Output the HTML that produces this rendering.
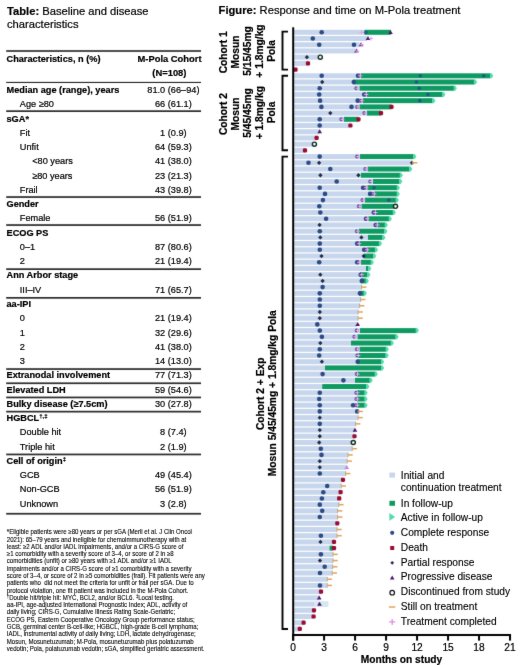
<!DOCTYPE html>
<html><head><meta charset="utf-8"><title>M-Pola</title>
<style>
html,body{margin:0;padding:0;background:#fff;}
body{width:520px;height:665px;overflow:hidden;}
svg{display:block;will-change:transform;font-family:"Liberation Sans", sans-serif;}
svg text{fill:#000;stroke:#000;stroke-width:0.2px;}
svg text.fn{stroke-width:0.09px;}
svg text.lg{stroke-width:0.12px;}
</style></head><body>
<svg width="520" height="665" viewBox="0 0 520 665">
<defs><filter id="b" x="0" y="0" width="520" height="665" filterUnits="userSpaceOnUse" color-interpolation-filters="sRGB"><feConvolveMatrix order="3" kernelMatrix="0.012 0.07 0.012 0.07 0.672 0.07 0.012 0.07 0.012" edgeMode="duplicate" preserveAlpha="true"/></filter><filter id="bt" x="0" y="0" width="520" height="665" filterUnits="userSpaceOnUse" color-interpolation-filters="sRGB"><feConvolveMatrix order="3" kernelMatrix="0.005 0.045 0.005 0.045 0.8 0.045 0.005 0.045 0.005" preserveAlpha="false"/></filter></defs>
<rect width="520" height="665" fill="#fff"/>
<g filter="url(#b)"><rect width="520" height="665" fill="#fff"/>
<rect x="6.2" y="50.1" width="194.8" height="1.8" fill="#3a3a3a"/>
<rect x="6.2" y="81.9" width="194.8" height="1.1" fill="#222"/>
<rect x="6.2" y="110.3" width="194.8" height="1.7" fill="#2a2a2a"/>
<rect x="6.2" y="196.2" width="194.8" height="1.7" fill="#2a2a2a"/>
<rect x="6.2" y="224.2" width="194.8" height="1.7" fill="#2a2a2a"/>
<rect x="6.2" y="268.3" width="194.8" height="1.7" fill="#2a2a2a"/>
<rect x="6.2" y="297" width="194.8" height="1.7" fill="#2a2a2a"/>
<rect x="6.2" y="368.2" width="194.8" height="1.7" fill="#2a2a2a"/>
<rect x="6.2" y="382.4" width="194.8" height="1.7" fill="#2a2a2a"/>
<rect x="6.2" y="396.6" width="194.8" height="1.7" fill="#2a2a2a"/>
<rect x="6.2" y="410.8" width="194.8" height="1.7" fill="#2a2a2a"/>
<rect x="6.2" y="453.6" width="194.8" height="1.7" fill="#2a2a2a"/>
<rect x="6.2" y="512.9" width="194.8" height="1.7" fill="#2a2a2a"/>
<rect x="294.2" y="29.8" width="70.3" height="5" fill="#c7d6ec"/>
<rect x="364.5" y="29.8" width="26.5" height="5" fill="#0e9a62"/>
<rect x="294.2" y="36.02" width="72.9" height="5" fill="#c7d6ec"/>
<rect x="294.2" y="42.23" width="65.3" height="5" fill="#c7d6ec"/>
<rect x="294.2" y="48.44" width="61.3" height="5" fill="#c7d6ec"/>
<rect x="294.2" y="54.66" width="26.3" height="5" fill="#c7d6ec"/>
<rect x="294.2" y="60.88" width="13.8" height="5" fill="#c7d6ec"/>
<rect x="294.2" y="73.3" width="66.8" height="5" fill="#c7d6ec"/>
<rect x="361" y="73.3" width="129.4" height="5" fill="#0e9a62"/>
<rect x="294.2" y="79.52" width="58.8" height="5" fill="#c7d6ec"/>
<rect x="353" y="79.52" width="121.2" height="5" fill="#0e9a62"/>
<rect x="294.2" y="85.73" width="65.3" height="5" fill="#c7d6ec"/>
<rect x="359.5" y="85.73" width="94.5" height="5" fill="#0e9a62"/>
<rect x="294.2" y="91.95" width="72.8" height="5" fill="#c7d6ec"/>
<rect x="367" y="91.95" width="75.5" height="5" fill="#0e9a62"/>
<rect x="294.2" y="98.16" width="68.8" height="5" fill="#c7d6ec"/>
<rect x="363" y="98.16" width="69.5" height="5" fill="#0e9a62"/>
<rect x="294.2" y="104.38" width="65.3" height="5" fill="#c7d6ec"/>
<rect x="359.5" y="104.38" width="32" height="5" fill="#0e9a62"/>
<rect x="294.2" y="110.59" width="72.8" height="5" fill="#c7d6ec"/>
<rect x="367" y="110.59" width="14" height="5" fill="#0e9a62"/>
<rect x="294.2" y="116.81" width="49.8" height="5" fill="#c7d6ec"/>
<rect x="344" y="116.81" width="14.5" height="5" fill="#0e9a62"/>
<rect x="294.2" y="123.02" width="56.2" height="5" fill="#c7d6ec"/>
<rect x="294.2" y="129.24" width="25.5" height="5" fill="#c7d6ec"/>
<rect x="294.2" y="135.45" width="22.4" height="5" fill="#c7d6ec"/>
<rect x="294.2" y="141.67" width="20.2" height="5" fill="#c7d6ec"/>
<rect x="294.2" y="147.88" width="10.8" height="5" fill="#c7d6ec"/>
<rect x="294.2" y="154.1" width="65.8" height="5" fill="#c7d6ec"/>
<rect x="360" y="154.1" width="53.5" height="5" fill="#0e9a62"/>
<rect x="294.2" y="160.31" width="117.8" height="5" fill="#c7d6ec"/>
<rect x="294.2" y="166.53" width="73.5" height="5" fill="#c7d6ec"/>
<rect x="367.7" y="166.53" width="41.8" height="5" fill="#0e9a62"/>
<rect x="294.2" y="172.75" width="66.8" height="5" fill="#c7d6ec"/>
<rect x="361" y="172.75" width="39" height="5" fill="#0e9a62"/>
<rect x="294.2" y="178.96" width="78.8" height="5" fill="#c7d6ec"/>
<rect x="373" y="178.96" width="26.5" height="5" fill="#0e9a62"/>
<rect x="294.2" y="185.18" width="73.3" height="5" fill="#c7d6ec"/>
<rect x="367.5" y="185.18" width="29.5" height="5" fill="#0e9a62"/>
<rect x="294.2" y="191.39" width="80.3" height="5" fill="#c7d6ec"/>
<rect x="374.5" y="191.39" width="22.5" height="5" fill="#0e9a62"/>
<rect x="294.2" y="197.61" width="70.8" height="5" fill="#c7d6ec"/>
<rect x="365" y="197.61" width="31" height="5" fill="#0e9a62"/>
<rect x="294.2" y="203.82" width="67.3" height="5" fill="#c7d6ec"/>
<rect x="361.5" y="203.82" width="33" height="5" fill="#0e9a62"/>
<rect x="294.2" y="210.03" width="81.8" height="5" fill="#c7d6ec"/>
<rect x="376" y="210.03" width="17" height="5" fill="#0e9a62"/>
<rect x="294.2" y="216.25" width="74.3" height="5" fill="#c7d6ec"/>
<rect x="368.5" y="216.25" width="20.5" height="5" fill="#0e9a62"/>
<rect x="294.2" y="222.46" width="83.3" height="5" fill="#c7d6ec"/>
<rect x="377.5" y="222.46" width="7.5" height="5" fill="#0e9a62"/>
<rect x="294.2" y="228.68" width="64.8" height="5" fill="#c7d6ec"/>
<rect x="359" y="228.68" width="25.5" height="5" fill="#0e9a62"/>
<rect x="294.2" y="234.89" width="73.8" height="5" fill="#c7d6ec"/>
<rect x="368" y="234.89" width="14.6" height="5" fill="#0e9a62"/>
<rect x="294.2" y="241.11" width="65.4" height="5" fill="#c7d6ec"/>
<rect x="359.6" y="241.11" width="19.6" height="5" fill="#0e9a62"/>
<rect x="294.2" y="247.32" width="72.8" height="5" fill="#c7d6ec"/>
<rect x="367" y="247.32" width="8.2" height="5" fill="#0e9a62"/>
<rect x="294.2" y="253.54" width="69.8" height="5" fill="#c7d6ec"/>
<rect x="364" y="253.54" width="9.4" height="5" fill="#0e9a62"/>
<rect x="294.2" y="259.75" width="66.8" height="5" fill="#c7d6ec"/>
<rect x="361" y="259.75" width="10" height="5" fill="#0e9a62"/>
<rect x="294.2" y="265.97" width="71.8" height="5" fill="#c7d6ec"/>
<rect x="366" y="265.97" width="2.5" height="5" fill="#0e9a62"/>
<rect x="294.2" y="272.19" width="65.8" height="5" fill="#c7d6ec"/>
<rect x="360" y="272.19" width="7.6" height="5" fill="#0e9a62"/>
<rect x="294.2" y="278.4" width="66.8" height="5" fill="#c7d6ec"/>
<rect x="361" y="278.4" width="5" height="5" fill="#0e9a62"/>
<rect x="294.2" y="284.62" width="67.8" height="5" fill="#c7d6ec"/>
<rect x="294.2" y="290.83" width="64.8" height="5" fill="#c7d6ec"/>
<rect x="359" y="290.83" width="5" height="5" fill="#0e9a62"/>
<rect x="294.2" y="297.05" width="66.8" height="5" fill="#c7d6ec"/>
<rect x="294.2" y="303.26" width="65.8" height="5" fill="#c7d6ec"/>
<rect x="294.2" y="309.48" width="64.2" height="5" fill="#c7d6ec"/>
<rect x="294.2" y="315.69" width="64.2" height="5" fill="#c7d6ec"/>
<rect x="294.2" y="321.91" width="62.8" height="5" fill="#c7d6ec"/>
<rect x="294.2" y="328.12" width="65.8" height="5" fill="#c7d6ec"/>
<rect x="360" y="328.12" width="56" height="5" fill="#0e9a62"/>
<rect x="294.2" y="334.33" width="63.3" height="5" fill="#c7d6ec"/>
<rect x="357.5" y="334.33" width="38.3" height="5" fill="#0e9a62"/>
<rect x="294.2" y="340.55" width="56.8" height="5" fill="#c7d6ec"/>
<rect x="351" y="340.55" width="40" height="5" fill="#0e9a62"/>
<rect x="294.2" y="346.76" width="65.3" height="5" fill="#c7d6ec"/>
<rect x="359.5" y="346.76" width="26.5" height="5" fill="#0e9a62"/>
<rect x="294.2" y="352.98" width="63.8" height="5" fill="#c7d6ec"/>
<rect x="358" y="352.98" width="27.8" height="5" fill="#0e9a62"/>
<rect x="294.2" y="359.19" width="62.8" height="5" fill="#c7d6ec"/>
<rect x="357" y="359.19" width="24.3" height="5" fill="#0e9a62"/>
<rect x="294.2" y="365.41" width="30.8" height="5" fill="#c7d6ec"/>
<rect x="325" y="365.41" width="56.3" height="5" fill="#0e9a62"/>
<rect x="294.2" y="371.62" width="62.8" height="5" fill="#c7d6ec"/>
<rect x="357" y="371.62" width="18" height="5" fill="#0e9a62"/>
<rect x="294.2" y="377.84" width="60.8" height="5" fill="#c7d6ec"/>
<rect x="355" y="377.84" width="14.9" height="5" fill="#0e9a62"/>
<rect x="294.2" y="384.06" width="28" height="5" fill="#c7d6ec"/>
<rect x="322.2" y="384.06" width="44.3" height="5" fill="#0e9a62"/>
<rect x="294.2" y="390.27" width="62.8" height="5" fill="#c7d6ec"/>
<rect x="357" y="390.27" width="7.8" height="5" fill="#0e9a62"/>
<rect x="294.2" y="396.49" width="62.8" height="5" fill="#c7d6ec"/>
<rect x="357" y="396.49" width="7.8" height="5" fill="#0e9a62"/>
<rect x="294.2" y="402.7" width="62.8" height="5" fill="#c7d6ec"/>
<rect x="357" y="402.7" width="7.8" height="5" fill="#0e9a62"/>
<rect x="294.2" y="408.92" width="63.8" height="5" fill="#c7d6ec"/>
<rect x="294.2" y="415.13" width="64.2" height="5" fill="#c7d6ec"/>
<rect x="294.2" y="421.35" width="61.8" height="5" fill="#c7d6ec"/>
<rect x="294.2" y="427.56" width="60.8" height="5" fill="#c7d6ec"/>
<rect x="294.2" y="433.77" width="60.3" height="5" fill="#c7d6ec"/>
<rect x="294.2" y="439.99" width="59.1" height="5" fill="#c7d6ec"/>
<rect x="294.2" y="446.2" width="58.3" height="5" fill="#c7d6ec"/>
<rect x="294.2" y="452.42" width="54.1" height="5" fill="#c7d6ec"/>
<rect x="294.2" y="458.63" width="53.3" height="5" fill="#c7d6ec"/>
<rect x="294.2" y="464.85" width="52.3" height="5" fill="#c7d6ec"/>
<rect x="294.2" y="471.06" width="51.8" height="5" fill="#c7d6ec"/>
<rect x="294.2" y="477.28" width="48.8" height="5" fill="#c7d6ec"/>
<rect x="294.2" y="483.5" width="47.3" height="5" fill="#c7d6ec"/>
<rect x="294.2" y="489.71" width="46.4" height="5" fill="#c7d6ec"/>
<rect x="294.2" y="495.93" width="45" height="5" fill="#c7d6ec"/>
<rect x="294.2" y="502.14" width="45" height="5" fill="#c7d6ec"/>
<rect x="294.2" y="508.36" width="43.8" height="5" fill="#c7d6ec"/>
<rect x="294.2" y="514.57" width="43.8" height="5" fill="#c7d6ec"/>
<rect x="294.2" y="520.78" width="43.1" height="5" fill="#c7d6ec"/>
<rect x="294.2" y="527" width="43.1" height="5" fill="#c7d6ec"/>
<rect x="294.2" y="533.21" width="43.1" height="5" fill="#c7d6ec"/>
<rect x="294.2" y="539.43" width="39.8" height="5" fill="#c7d6ec"/>
<rect x="294.2" y="545.64" width="35.3" height="5" fill="#c7d6ec"/>
<rect x="329.5" y="545.64" width="3.5" height="5" fill="#0e9a62"/>
<rect x="294.2" y="551.86" width="39.1" height="5" fill="#c7d6ec"/>
<rect x="294.2" y="558.07" width="39.1" height="5" fill="#c7d6ec"/>
<rect x="294.2" y="564.29" width="38.8" height="5" fill="#c7d6ec"/>
<rect x="294.2" y="570.5" width="38.3" height="5" fill="#c7d6ec"/>
<rect x="294.2" y="576.72" width="33.3" height="5" fill="#c7d6ec"/>
<rect x="294.2" y="582.93" width="33.3" height="5" fill="#c7d6ec"/>
<rect x="294.2" y="589.15" width="26.8" height="5" fill="#c7d6ec"/>
<rect x="294.2" y="595.36" width="25" height="5" fill="#c7d6ec"/>
<rect x="294.2" y="601.58" width="34" height="5" fill="#c7d6ec"/>
<rect x="321" y="601.58" width="7.2" height="5" fill="#d4e7f3"/>
<rect x="314.5" y="601.58" width="3" height="5" fill="#dde9f6"/>
<rect x="294.2" y="607.79" width="19.8" height="5" fill="#c7d6ec"/>
<rect x="294.2" y="614.01" width="19.4" height="5" fill="#c7d6ec"/>
<rect x="294.2" y="620.22" width="9.4" height="5" fill="#c7d6ec"/>
<rect x="294.2" y="626.44" width="5.6" height="5" fill="#c7d6ec"/>
<circle cx="321.7" cy="32.3" r="2.3" fill="#2b4a86"/>
<path d="M359.4 32.3h4.2M361.5 30.2v4.2" stroke="#e79ef0" stroke-width="1.0" fill="none"/>
<circle cx="365.8" cy="32.3" r="1.9" fill="#1f4f86" opacity="0.7"/>
<path d="M390.5 29.9l2.3 4h-4.6z" fill="#4c1868"/>
<circle cx="312.8" cy="38.52" r="2.3" fill="#2b4a86"/>
<path d="M368 36.12l2.3 4h-4.6z" fill="#4c1868"/>
<path d="M368.9 38.52h4.2M371 36.41v4.2" stroke="#e79ef0" stroke-width="1.0" fill="none"/>
<circle cx="319.2" cy="44.73" r="2.3" fill="#2b4a86"/>
<circle cx="354" cy="44.73" r="2.3" fill="#2b4a86"/>
<path d="M361 42.33l2.3 4h-4.6z" fill="#4c1868"/>
<path d="M359.7 44.73h4.2M361.8 42.63v4.2" stroke="#e79ef0" stroke-width="1.0" fill="none"/>
<path d="M356.5 48.54l2.3 4h-4.6z" fill="#4c1868"/>
<path d="M355.1 50.94h4.2M357.2 48.84v4.2" stroke="#e79ef0" stroke-width="1.0" fill="none"/>
<path d="M306.9 55.01l2.15 2.15l-2.15 2.15l-2.15 -2.15z" fill="#1f2a44"/>
<circle cx="320.3" cy="57.16" r="2.05" fill="#f4f8f6" stroke="#0f2a22" stroke-width="1.4"/>
<rect x="305.9" y="61.27" width="4.2" height="4.2" rx="1.3" fill="#9a0c32"/>
<rect x="293.4" y="67.49" width="4.2" height="4.2" rx="1.3" fill="#9a0c32"/>
<circle cx="321.7" cy="75.8" r="2.3" fill="#2b4a86"/>
<circle cx="358" cy="75.8" r="2.3" fill="#2b4a86"/>
<circle cx="359.4" cy="75.8" r="2.0" fill="#5a4494"/><path d="M358.2 75.8h4.2M360.3 73.7v4.2" stroke="#eeb2f4" stroke-width="1.0" fill="none"/>
<circle cx="420.4" cy="75.8" r="1.8" fill="#1f4f86" opacity="0.85"/>
<circle cx="483.7" cy="75.8" r="1.8" fill="#1f4f86" opacity="0.85"/>
<path d="M490.1 73.3h1.5l1.7 2.5l-1.7 2.5h-1.5z" fill="#52dcab"/>
<path d="M322.2 79.87l2.15 2.15l-2.15 2.15l-2.15 -2.15z" fill="#1f2a44"/>
<circle cx="353.8" cy="82.02" r="2.3" fill="#2b4a86"/>
<circle cx="416.4" cy="82.02" r="1.8" fill="#1f4f86" opacity="0.85"/>
<path d="M473.9 79.52h1.5l1.7 2.5l-1.7 2.5h-1.5z" fill="#52dcab"/>
<circle cx="319.7" cy="88.23" r="2.3" fill="#2b4a86"/>
<circle cx="356.4" cy="88.23" r="2.0" fill="#5a4494"/><path d="M355.2 88.23h4.2M357.3 86.14v4.2" stroke="#eeb2f4" stroke-width="1.0" fill="none"/>
<circle cx="419.2" cy="88.23" r="1.8" fill="#1f4f86" opacity="0.85"/>
<path d="M453.7 85.73h1.5l1.7 2.5l-1.7 2.5h-1.5z" fill="#52dcab"/>
<circle cx="319.2" cy="94.45" r="2.3" fill="#2b4a86"/>
<circle cx="364.2" cy="94.45" r="2.3" fill="#2b4a86"/>
<circle cx="365.4" cy="94.45" r="2.0" fill="#5a4494"/><path d="M364.2 94.45h4.2M366.3 92.35v4.2" stroke="#eeb2f4" stroke-width="1.0" fill="none"/>
<circle cx="427.9" cy="94.45" r="1.8" fill="#1f4f86" opacity="0.85"/>
<path d="M442.2 91.95h1.5l1.7 2.5l-1.7 2.5h-1.5z" fill="#52dcab"/>
<circle cx="320.1" cy="100.66" r="2.3" fill="#2b4a86"/>
<circle cx="357.7" cy="100.66" r="2.3" fill="#2b4a86"/>
<circle cx="360.9" cy="100.66" r="2.0" fill="#5a4494"/><path d="M359.7 100.66h4.2M361.8 98.56v4.2" stroke="#eeb2f4" stroke-width="1.0" fill="none"/>
<circle cx="419.8" cy="100.66" r="1.8" fill="#1f4f86" opacity="0.85"/>
<path d="M432.2 98.16h1.5l1.7 2.5l-1.7 2.5h-1.5z" fill="#52dcab"/>
<circle cx="321.4" cy="106.88" r="2.3" fill="#2b4a86"/>
<circle cx="351.5" cy="106.88" r="2.3" fill="#2b4a86"/>
<circle cx="357.1" cy="106.88" r="2.0" fill="#5a4494"/><path d="M355.9 106.88h4.2M358 104.78v4.2" stroke="#eeb2f4" stroke-width="1.0" fill="none"/>
<rect x="389.4" y="104.78" width="4.2" height="4.2" rx="1.3" fill="#9a0c32"/>
<path d="M330.3 110.94l2.15 2.15l-2.15 2.15l-2.15 -2.15z" fill="#1f2a44"/>
<circle cx="364.4" cy="113.09" r="2.0" fill="#5a4494"/><path d="M363.2 113.09h4.2M365.3 111v4.2" stroke="#eeb2f4" stroke-width="1.0" fill="none"/>
<rect x="378.9" y="111" width="4.2" height="4.2" rx="1.3" fill="#9a0c32"/>
<circle cx="319.7" cy="119.31" r="2.3" fill="#2b4a86"/>
<circle cx="341.4" cy="119.31" r="2.0" fill="#5a4494"/><path d="M340.2 119.31h4.2M342.3 117.21v4.2" stroke="#eeb2f4" stroke-width="1.0" fill="none"/>
<rect x="356.4" y="117.21" width="4.2" height="4.2" rx="1.3" fill="#9a0c32"/>
<circle cx="319.7" cy="125.52" r="2.3" fill="#2b4a86"/>
<rect x="348.3" y="123.42" width="4.2" height="4.2" rx="1.3" fill="#9a0c32"/>
<path d="M319.7 129.34l2.3 4h-4.6z" fill="#4c1868"/>
<rect x="314.5" y="135.85" width="4.2" height="4.2" rx="1.3" fill="#9a0c32"/>
<circle cx="314.4" cy="144.17" r="2.05" fill="#f4f8f6" stroke="#0f2a22" stroke-width="1.4"/>
<rect x="302.9" y="148.28" width="4.2" height="4.2" rx="1.3" fill="#9a0c32"/>
<circle cx="319.7" cy="156.6" r="2.3" fill="#2b4a86"/>
<circle cx="357.2" cy="156.6" r="2.0" fill="#5a4494"/><path d="M356 156.6h4.2M358.1 154.5v4.2" stroke="#eeb2f4" stroke-width="1.0" fill="none"/>
<path d="M413.2 154.1h1.5l1.7 2.5l-1.7 2.5h-1.5z" fill="#52dcab"/>
<circle cx="308.5" cy="162.81" r="2.3" fill="#2b4a86"/>
<path d="M319.1 160.66l2.15 2.15l-2.15 2.15l-2.15 -2.15z" fill="#1f2a44"/>
<path d="M412 160.66l2.15 2.15l-2.15 2.15l-2.15 -2.15z" fill="#1f2a44"/>
<rect x="412.2" y="160.62" width="0.9" height="4.4" fill="#b8a67e"/><rect x="412.8" y="162.06" width="4.6" height="1.5" fill="#e2a25a"/>
<circle cx="330.3" cy="169.03" r="2.3" fill="#2b4a86"/>
<circle cx="365.3" cy="169.03" r="2.0" fill="#5a4494"/><path d="M364.1 169.03h4.2M366.2 166.93v4.2" stroke="#eeb2f4" stroke-width="1.0" fill="none"/>
<path d="M409.2 166.53h1.5l1.7 2.5l-1.7 2.5h-1.5z" fill="#52dcab"/>
<path d="M320.4 173.09l2.15 2.15l-2.15 2.15l-2.15 -2.15z" fill="#1f2a44"/>
<path d="M358.4 173.09l2.15 2.15l-2.15 2.15l-2.15 -2.15z" fill="#1f2a44"/>
<path d="M399.7 172.75h1.5l1.7 2.5l-1.7 2.5h-1.5z" fill="#52dcab"/>
<circle cx="336.7" cy="181.46" r="2.3" fill="#2b4a86"/>
<circle cx="370.3" cy="181.46" r="2.0" fill="#5a4494"/><path d="M369.1 181.46h4.2M371.2 179.36v4.2" stroke="#eeb2f4" stroke-width="1.0" fill="none"/>
<path d="M399.2 178.96h1.5l1.7 2.5l-1.7 2.5h-1.5z" fill="#52dcab"/>
<circle cx="319.7" cy="187.68" r="2.3" fill="#2b4a86"/>
<circle cx="363.1" cy="187.68" r="2.3" fill="#2b4a86"/>
<circle cx="365.4" cy="187.68" r="2.0" fill="#5a4494"/><path d="M364.2 187.68h4.2M366.3 185.58v4.2" stroke="#eeb2f4" stroke-width="1.0" fill="none"/>
<path d="M396.7 185.18h1.5l1.7 2.5l-1.7 2.5h-1.5z" fill="#52dcab"/>
<circle cx="374" cy="187.68" r="1.8" fill="#1f4f86" opacity="0.85"/>
<circle cx="325" cy="193.89" r="2.3" fill="#2b4a86"/>
<circle cx="370.1" cy="193.89" r="2.3" fill="#2b4a86"/>
<circle cx="373.4" cy="193.89" r="2.0" fill="#5a4494"/><path d="M372.2 193.89h4.2M374.3 191.79v4.2" stroke="#eeb2f4" stroke-width="1.0" fill="none"/>
<path d="M396.7 191.39h1.5l1.7 2.5l-1.7 2.5h-1.5z" fill="#52dcab"/>
<circle cx="322.9" cy="200.11" r="2.3" fill="#2b4a86"/>
<circle cx="362.5" cy="200.11" r="2.0" fill="#5a4494"/><path d="M361.3 200.11h4.2M363.4 198.01v4.2" stroke="#eeb2f4" stroke-width="1.0" fill="none"/>
<circle cx="388.7" cy="200.11" r="1.8" fill="#1f4f86" opacity="0.85"/>
<path d="M395.7 197.61h1.5l1.7 2.5l-1.7 2.5h-1.5z" fill="#52dcab"/>
<circle cx="319.3" cy="206.32" r="2.3" fill="#2b4a86"/>
<circle cx="358.9" cy="206.32" r="2.0" fill="#5a4494"/><path d="M357.7 206.32h4.2M359.8 204.22v4.2" stroke="#eeb2f4" stroke-width="1.0" fill="none"/>
<circle cx="395.5" cy="206.32" r="2.05" fill="#f4f8f6" stroke="#0f2a22" stroke-width="1.4"/>
<circle cx="320.3" cy="212.53" r="2.3" fill="#2b4a86"/>
<circle cx="373.8" cy="212.53" r="2.3" fill="#2b4a86"/>
<circle cx="374.4" cy="212.53" r="2.0" fill="#5a4494"/><path d="M373.2 212.53h4.2M375.3 210.43v4.2" stroke="#eeb2f4" stroke-width="1.0" fill="none"/>
<path d="M392.7 210.03h1.5l1.7 2.5l-1.7 2.5h-1.5z" fill="#52dcab"/>
<circle cx="326.1" cy="218.75" r="2.3" fill="#2b4a86"/>
<circle cx="366" cy="218.75" r="2.3" fill="#2b4a86"/>
<circle cx="366.4" cy="218.75" r="2.0" fill="#5a4494"/><path d="M365.2 218.75h4.2M367.3 216.65v4.2" stroke="#eeb2f4" stroke-width="1.0" fill="none"/>
<path d="M388.7 216.25h1.5l1.7 2.5l-1.7 2.5h-1.5z" fill="#52dcab"/>
<path d="M319.6 222.81l2.15 2.15l-2.15 2.15l-2.15 -2.15z" fill="#1f2a44"/>
<circle cx="375.7" cy="224.96" r="2.3" fill="#2b4a86"/>
<circle cx="376.4" cy="224.96" r="2.0" fill="#5a4494"/><path d="M375.2 224.96h4.2M377.3 222.86v4.2" stroke="#eeb2f4" stroke-width="1.0" fill="none"/>
<path d="M384.7 222.46h1.5l1.7 2.5l-1.7 2.5h-1.5z" fill="#52dcab"/>
<circle cx="319.8" cy="231.18" r="2.3" fill="#2b4a86"/>
<circle cx="356.9" cy="231.18" r="2.0" fill="#5a4494"/><path d="M355.7 231.18h4.2M357.8 229.08v4.2" stroke="#eeb2f4" stroke-width="1.0" fill="none"/>
<path d="M384.2 228.68h1.5l1.7 2.5l-1.7 2.5h-1.5z" fill="#52dcab"/>
<path d="M320.3 235.24l2.15 2.15l-2.15 2.15l-2.15 -2.15z" fill="#1f2a44"/>
<path d="M361.4 235.24l2.15 2.15l-2.15 2.15l-2.15 -2.15z" fill="#1f2a44"/>
<path d="M382.3 234.89h1.5l1.7 2.5l-1.7 2.5h-1.5z" fill="#52dcab"/>
<circle cx="319.8" cy="243.61" r="2.3" fill="#2b4a86"/>
<circle cx="357.2" cy="243.61" r="2.3" fill="#2b4a86"/>
<circle cx="358.4" cy="243.61" r="2.0" fill="#5a4494"/><path d="M357.2 243.61h4.2M359.3 241.51v4.2" stroke="#eeb2f4" stroke-width="1.0" fill="none"/>
<path d="M378.9 241.11h1.5l1.7 2.5l-1.7 2.5h-1.5z" fill="#52dcab"/>
<circle cx="319.8" cy="249.82" r="2.3" fill="#2b4a86"/>
<circle cx="364.2" cy="249.82" r="2.3" fill="#2b4a86"/>
<circle cx="366.4" cy="249.82" r="2.0" fill="#5a4494"/><path d="M365.2 249.82h4.2M367.3 247.72v4.2" stroke="#eeb2f4" stroke-width="1.0" fill="none"/>
<path d="M374.9 247.32h1.5l1.7 2.5l-1.7 2.5h-1.5z" fill="#52dcab"/>
<path d="M321.5 253.89l2.15 2.15l-2.15 2.15l-2.15 -2.15z" fill="#1f2a44"/>
<path d="M363.7 253.89l2.15 2.15l-2.15 2.15l-2.15 -2.15z" fill="#1f2a44"/>
<path d="M373.1 253.54h1.5l1.7 2.5l-1.7 2.5h-1.5z" fill="#52dcab"/>
<circle cx="319.2" cy="262.25" r="2.3" fill="#2b4a86"/>
<circle cx="357.2" cy="262.25" r="2.3" fill="#2b4a86"/>
<circle cx="358.4" cy="262.25" r="2.0" fill="#5a4494"/><path d="M357.2 262.25h4.2M359.3 260.15v4.2" stroke="#eeb2f4" stroke-width="1.0" fill="none"/>
<path d="M370.7 259.75h1.5l1.7 2.5l-1.7 2.5h-1.5z" fill="#52dcab"/>
<path d="M368.2 265.97h1.5l1.7 2.5l-1.7 2.5h-1.5z" fill="#52dcab"/>
<path d="M320.3 272.54l2.15 2.15l-2.15 2.15l-2.15 -2.15z" fill="#1f2a44"/>
<circle cx="360.7" cy="274.69" r="2.3" fill="#2b4a86"/>
<circle cx="360.9" cy="274.69" r="2.0" fill="#5a4494"/><path d="M359.7 274.69h4.2M361.8 272.58v4.2" stroke="#eeb2f4" stroke-width="1.0" fill="none"/>
<path d="M367.3 272.19h1.5l1.7 2.5l-1.7 2.5h-1.5z" fill="#52dcab"/>
<path d="M322.6 278.75l2.15 2.15l-2.15 2.15l-2.15 -2.15z" fill="#1f2a44"/>
<circle cx="361.8" cy="280.9" r="2.3" fill="#2b4a86"/>
<path d="M365.7 278.4h1.5l1.7 2.5l-1.7 2.5h-1.5z" fill="#52dcab"/>
<circle cx="322.6" cy="287.12" r="2.3" fill="#2b4a86"/>
<rect x="361.2" y="284.92" width="0.9" height="4.4" fill="#b8a67e"/><rect x="361.8" y="286.37" width="4.6" height="1.5" fill="#e2a25a"/>
<circle cx="319.8" cy="293.33" r="2.3" fill="#2b4a86"/>
<circle cx="360" cy="293.33" r="2.3" fill="#2b4a86"/>
<path d="M363.7 290.83h1.5l1.7 2.5l-1.7 2.5h-1.5z" fill="#52dcab"/>
<circle cx="319.8" cy="299.55" r="2.3" fill="#2b4a86"/>
<rect x="360.2" y="297.35" width="0.9" height="4.4" fill="#b8a67e"/><rect x="360.8" y="298.8" width="4.6" height="1.5" fill="#e2a25a"/>
<circle cx="319.8" cy="305.76" r="2.3" fill="#2b4a86"/>
<rect x="359.2" y="303.56" width="0.9" height="4.4" fill="#b8a67e"/><rect x="359.8" y="305.01" width="4.6" height="1.5" fill="#e2a25a"/>
<path d="M319.8 309.83l2.15 2.15l-2.15 2.15l-2.15 -2.15z" fill="#1f2a44"/>
<rect x="357.6" y="309.78" width="0.9" height="4.4" fill="#b8a67e"/><rect x="358.2" y="311.23" width="4.6" height="1.5" fill="#e2a25a"/>
<path d="M319.8 316.04l2.15 2.15l-2.15 2.15l-2.15 -2.15z" fill="#1f2a44"/>
<rect x="357.6" y="315.99" width="0.9" height="4.4" fill="#b8a67e"/><rect x="358.2" y="317.44" width="4.6" height="1.5" fill="#e2a25a"/>
<circle cx="317.3" cy="324.41" r="2.3" fill="#2b4a86"/>
<path d="M357.7 322.01l2.3 4h-4.6z" fill="#4c1868"/>
<circle cx="319.8" cy="330.62" r="2.3" fill="#2b4a86"/>
<circle cx="356.7" cy="330.62" r="2.0" fill="#5a4494"/><path d="M355.5 330.62h4.2M357.6 328.52v4.2" stroke="#eeb2f4" stroke-width="1.0" fill="none"/>
<path d="M415.7 328.12h1.5l1.7 2.5l-1.7 2.5h-1.5z" fill="#52dcab"/>
<circle cx="321.9" cy="336.83" r="2.3" fill="#2b4a86"/>
<circle cx="354.4" cy="336.83" r="2.0" fill="#5a4494"/><path d="M353.2 336.83h4.2M355.3 334.73v4.2" stroke="#eeb2f4" stroke-width="1.0" fill="none"/>
<path d="M395.5 334.33h1.5l1.7 2.5l-1.7 2.5h-1.5z" fill="#52dcab"/>
<path d="M320.3 340.9l2.15 2.15l-2.15 2.15l-2.15 -2.15z" fill="#1f2a44"/>
<path d="M390.7 340.55h1.5l1.7 2.5l-1.7 2.5h-1.5z" fill="#52dcab"/>
<circle cx="319.8" cy="349.26" r="2.3" fill="#2b4a86"/>
<circle cx="356.9" cy="349.26" r="2.0" fill="#5a4494"/><path d="M355.7 349.26h4.2M357.8 347.16v4.2" stroke="#eeb2f4" stroke-width="1.0" fill="none"/>
<path d="M385.7 346.76h1.5l1.7 2.5l-1.7 2.5h-1.5z" fill="#52dcab"/>
<circle cx="319.2" cy="355.48" r="2.3" fill="#2b4a86"/>
<circle cx="357.4" cy="355.48" r="2.0" fill="#5a4494"/><path d="M356.2 355.48h4.2M358.3 353.38v4.2" stroke="#eeb2f4" stroke-width="1.0" fill="none"/>
<path d="M385.5 352.98h1.5l1.7 2.5l-1.7 2.5h-1.5z" fill="#52dcab"/>
<path d="M321.9 359.55l2.15 2.15l-2.15 2.15l-2.15 -2.15z" fill="#1f2a44"/>
<circle cx="357.7" cy="361.69" r="2.3" fill="#2b4a86"/>
<path d="M381 359.19h1.5l1.7 2.5l-1.7 2.5h-1.5z" fill="#52dcab"/>
<path d="M381 365.41h1.5l1.7 2.5l-1.7 2.5h-1.5z" fill="#52dcab"/>
<circle cx="322.6" cy="374.12" r="2.3" fill="#2b4a86"/>
<circle cx="356.7" cy="374.12" r="2.0" fill="#5a4494"/><path d="M355.5 374.12h4.2M357.6 372.02v4.2" stroke="#eeb2f4" stroke-width="1.0" fill="none"/>
<path d="M374.7 371.62h1.5l1.7 2.5l-1.7 2.5h-1.5z" fill="#52dcab"/>
<circle cx="343.4" cy="380.34" r="2.3" fill="#2b4a86"/>
<path d="M369.6 377.84h1.5l1.7 2.5l-1.7 2.5h-1.5z" fill="#52dcab"/>
<path d="M366.2 384.06h1.5l1.7 2.5l-1.7 2.5h-1.5z" fill="#52dcab"/>
<circle cx="319.8" cy="392.77" r="2.3" fill="#2b4a86"/>
<circle cx="356.4" cy="392.77" r="2.0" fill="#5a4494"/><path d="M355.2 392.77h4.2M357.3 390.67v4.2" stroke="#eeb2f4" stroke-width="1.0" fill="none"/>
<path d="M364.5 390.27h1.5l1.7 2.5l-1.7 2.5h-1.5z" fill="#52dcab"/>
<circle cx="319.2" cy="398.99" r="2.3" fill="#2b4a86"/>
<circle cx="356.4" cy="398.99" r="2.0" fill="#5a4494"/><path d="M355.2 398.99h4.2M357.3 396.88v4.2" stroke="#eeb2f4" stroke-width="1.0" fill="none"/>
<path d="M364.5 396.49h1.5l1.7 2.5l-1.7 2.5h-1.5z" fill="#52dcab"/>
<circle cx="319.8" cy="405.2" r="2.3" fill="#2b4a86"/>
<circle cx="353.1" cy="405.2" r="2.3" fill="#2b4a86"/>
<circle cx="356.4" cy="405.2" r="2.0" fill="#5a4494"/><path d="M355.2 405.2h4.2M357.3 403.1v4.2" stroke="#eeb2f4" stroke-width="1.0" fill="none"/>
<path d="M364.5 402.7h1.5l1.7 2.5l-1.7 2.5h-1.5z" fill="#52dcab"/>
<circle cx="319.8" cy="411.42" r="2.3" fill="#2b4a86"/>
<circle cx="357.2" cy="411.42" r="2.3" fill="#2b4a86"/>
<rect x="357.7" y="409.22" width="0.9" height="4.4" fill="#b8a67e"/><rect x="358.3" y="410.67" width="4.6" height="1.5" fill="#e2a25a"/>
<path d="M319.8 415.48l2.15 2.15l-2.15 2.15l-2.15 -2.15z" fill="#1f2a44"/>
<rect x="357.6" y="415.43" width="0.9" height="4.4" fill="#b8a67e"/><rect x="358.2" y="416.88" width="4.6" height="1.5" fill="#e2a25a"/>
<circle cx="319.8" cy="423.85" r="2.3" fill="#2b4a86"/>
<rect x="355.2" y="421.65" width="0.9" height="4.4" fill="#b8a67e"/><rect x="355.8" y="423.1" width="4.6" height="1.5" fill="#e2a25a"/>
<path d="M319.8 427.91l2.15 2.15l-2.15 2.15l-2.15 -2.15z" fill="#1f2a44"/>
<path d="M355 427.66l2.3 4h-4.6z" fill="#4c1868"/>
<path d="M319.8 434.12l2.15 2.15l-2.15 2.15l-2.15 -2.15z" fill="#1f2a44"/>
<rect x="352.4" y="434.17" width="4.2" height="4.2" rx="1.3" fill="#9a0c32"/>
<path d="M319.2 440.34l2.15 2.15l-2.15 2.15l-2.15 -2.15z" fill="#1f2a44"/>
<circle cx="353.3" cy="442.49" r="2.05" fill="#f4f8f6" stroke="#0f2a22" stroke-width="1.4"/>
<circle cx="320.8" cy="448.7" r="2.3" fill="#2b4a86"/>
<rect x="351.7" y="446.5" width="0.9" height="4.4" fill="#b8a67e"/><rect x="352.3" y="447.95" width="4.6" height="1.5" fill="#e2a25a"/>
<circle cx="321.5" cy="454.92" r="2.3" fill="#2b4a86"/>
<rect x="347.5" y="452.72" width="0.9" height="4.4" fill="#b8a67e"/><rect x="348.1" y="454.17" width="4.6" height="1.5" fill="#e2a25a"/>
<path d="M319.8 458.99l2.15 2.15l-2.15 2.15l-2.15 -2.15z" fill="#1f2a44"/>
<rect x="346.7" y="458.94" width="0.9" height="4.4" fill="#b8a67e"/><rect x="347.3" y="460.38" width="4.6" height="1.5" fill="#e2a25a"/>
<path d="M319.8 465.2l2.15 2.15l-2.15 2.15l-2.15 -2.15z" fill="#1f2a44"/>
<path d="M346.8 464.95l2.3 4h-4.6z" fill="#c880d8"/>
<circle cx="319.8" cy="473.56" r="2.3" fill="#2b4a86"/>
<rect x="345.2" y="471.37" width="0.9" height="4.4" fill="#b8a67e"/><rect x="345.8" y="472.81" width="4.6" height="1.5" fill="#e2a25a"/>
<rect x="340.9" y="477.68" width="4.2" height="4.2" rx="1.3" fill="#9a0c32"/>
<circle cx="327.2" cy="486" r="2.3" fill="#2b4a86"/>
<rect x="340.7" y="483.8" width="0.9" height="4.4" fill="#b8a67e"/><rect x="341.3" y="485.25" width="4.6" height="1.5" fill="#e2a25a"/>
<circle cx="323.3" cy="492.21" r="2.3" fill="#2b4a86"/>
<rect x="338.5" y="490.11" width="4.2" height="4.2" rx="1.3" fill="#9a0c32"/>
<circle cx="321.9" cy="498.43" r="2.3" fill="#2b4a86"/>
<rect x="337.1" y="496.32" width="4.2" height="4.2" rx="1.3" fill="#9a0c32"/>
<circle cx="319.8" cy="504.64" r="2.3" fill="#2b4a86"/>
<rect x="338.4" y="502.44" width="0.9" height="4.4" fill="#b8a67e"/><rect x="339" y="503.89" width="4.6" height="1.5" fill="#e2a25a"/>
<circle cx="322.2" cy="510.86" r="2.3" fill="#2b4a86"/>
<rect x="337.2" y="508.66" width="0.9" height="4.4" fill="#b8a67e"/><rect x="337.8" y="510.11" width="4.6" height="1.5" fill="#e2a25a"/>
<circle cx="319.8" cy="517.07" r="2.3" fill="#2b4a86"/>
<rect x="337.2" y="514.87" width="0.9" height="4.4" fill="#b8a67e"/><rect x="337.8" y="516.32" width="4.6" height="1.5" fill="#e2a25a"/>
<rect x="335.2" y="521.18" width="4.2" height="4.2" rx="1.3" fill="#9a0c32"/>
<rect x="336.5" y="527.3" width="0.9" height="4.4" fill="#b8a67e"/><rect x="337.1" y="528.75" width="4.6" height="1.5" fill="#e2a25a"/>
<circle cx="320.9" cy="535.71" r="2.3" fill="#2b4a86"/>
<rect x="336.5" y="533.51" width="0.9" height="4.4" fill="#b8a67e"/><rect x="337.1" y="534.96" width="4.6" height="1.5" fill="#e2a25a"/>
<path d="M320.5 539.78l2.15 2.15l-2.15 2.15l-2.15 -2.15z" fill="#1f2a44"/>
<rect x="331.9" y="539.83" width="4.2" height="4.2" rx="1.3" fill="#9a0c32"/>
<rect x="331.9" y="546.04" width="4.2" height="4.2" rx="1.3" fill="#9a0c32"/>
<circle cx="320.9" cy="554.36" r="2.3" fill="#2b4a86"/>
<rect x="332.5" y="552.16" width="0.9" height="4.4" fill="#b8a67e"/><rect x="333.1" y="553.61" width="4.6" height="1.5" fill="#e2a25a"/>
<path d="M320 558.42l2.15 2.15l-2.15 2.15l-2.15 -2.15z" fill="#1f2a44"/>
<rect x="332.5" y="558.37" width="0.9" height="4.4" fill="#b8a67e"/><rect x="333.1" y="559.82" width="4.6" height="1.5" fill="#e2a25a"/>
<circle cx="324.7" cy="566.79" r="2.3" fill="#2b4a86"/>
<rect x="332.2" y="564.59" width="0.9" height="4.4" fill="#b8a67e"/><rect x="332.8" y="566.04" width="4.6" height="1.5" fill="#e2a25a"/>
<circle cx="320" cy="573" r="2.3" fill="#2b4a86"/>
<rect x="331.7" y="570.8" width="0.9" height="4.4" fill="#b8a67e"/><rect x="332.3" y="572.25" width="4.6" height="1.5" fill="#e2a25a"/>
<rect x="326.7" y="577.02" width="0.9" height="4.4" fill="#b8a67e"/><rect x="327.3" y="578.47" width="4.6" height="1.5" fill="#e2a25a"/>
<circle cx="320" cy="585.43" r="2.3" fill="#2b4a86"/>
<rect x="326.7" y="583.23" width="0.9" height="4.4" fill="#b8a67e"/><rect x="327.3" y="584.68" width="4.6" height="1.5" fill="#e2a25a"/>
<rect x="318.9" y="589.55" width="4.2" height="4.2" rx="1.3" fill="#9a0c32"/>
<path d="M319.2 595.46l2.3 4h-4.6z" fill="#4c1868"/>
<path d="M319.5 601.68l2.3 4h-4.6z" fill="#4c1868"/>
<rect x="311.9" y="608.19" width="4.2" height="4.2" rx="1.3" fill="#9a0c32"/>
<rect x="311.5" y="614.41" width="4.2" height="4.2" rx="1.3" fill="#9a0c32"/>
<rect x="301.5" y="620.62" width="4.2" height="4.2" rx="1.3" fill="#9a0c32"/>
<rect x="297.7" y="626.84" width="4.2" height="4.2" rx="1.3" fill="#9a0c32"/>
<rect x="292.2" y="27.3" width="2" height="613.3" fill="#000"/>
<rect x="292.2" y="634" width="218.8" height="2" fill="#000"/>
<rect x="292.1" y="634" width="2" height="6.6" fill="#000"/>
<rect x="323.09" y="634" width="2" height="6.6" fill="#000"/>
<rect x="354.08" y="634" width="2" height="6.6" fill="#000"/>
<rect x="385.07" y="634" width="2" height="6.6" fill="#000"/>
<rect x="416.06" y="634" width="2" height="6.6" fill="#000"/>
<rect x="447.05" y="634" width="2" height="6.6" fill="#000"/>
<rect x="478.04" y="634" width="2" height="6.6" fill="#000"/>
<rect x="509.03" y="634" width="2" height="6.6" fill="#000"/>
<path d="M288 31.6 H282.5 V69.6 H288" fill="none" stroke="#000" stroke-width="1.9"/>
<path d="M288 75.8 H282.5 V150.3 H288" fill="none" stroke="#000" stroke-width="1.9"/>
<path d="M288 156.6 H282.5 V629 H288" fill="none" stroke="#000" stroke-width="1.9"/>
<rect x="389.4" y="472.6" width="5.6" height="5" fill="#c7d6ec"/>
<rect x="389.4" y="500.8" width="5.6" height="5" fill="#0e9a62"/>
<path d="M389.4 513.1l5.8 3.8l-5.8 3.8z" fill="#52dcab"/>
<circle cx="392.2" cy="532.8" r="2.1" fill="#2b4a86"/>
<rect x="390.2" y="546" width="4" height="4" fill="#9a0c32"/>
<path d="M392.2 560.9l1.9 1.9l-1.9 1.9l-1.9 -1.9z" fill="#1f2a44"/>
<path d="M392.2 575.5l2.3 4h-4.6z" fill="#4c1868"/>
<circle cx="392.2" cy="592.7" r="2.3" fill="#fff" stroke="#111" stroke-width="1.2"/>
<rect x="388.9" y="606.25" width="6.4" height="1.5" fill="#e2a25a"/>
<path d="M389.2 621.9h6M392.2 618.9v6" stroke="#d98be0" stroke-width="1.2" fill="none"/>
</g>
<g filter="url(#bt)">
<text x="7" y="14.8" font-size="11.2"><tspan font-weight="bold">Table:</tspan> Baseline and disease</text>
<text x="7" y="28" font-size="11.2">characteristics</text>
<text x="218.6" y="14.2" font-size="11.2"><tspan font-weight="bold">Figure:</tspan> Response and time on M-Pola treatment</text>
<text x="6.5" y="61.6" font-size="9.2" font-weight="bold">Characteristics, n (%)</text>
<text x="169.5" y="62" font-size="9.4" font-weight="bold" text-anchor="middle">M-Pola Cohort</text>
<text x="169.4" y="76.4" font-size="9.4" font-weight="bold" text-anchor="middle">(N=108)</text>
<text x="6.5" y="93.1" font-size="9.2" font-weight="bold">Median age (range), years</text>
<text x="173.4" y="93.1" font-size="9.2" text-anchor="middle">81.0 (66–94)</text>
<text x="19.8" y="107.36" font-size="9.2">Age ≥80</text>
<text x="173.4" y="107.36" font-size="9.2" text-anchor="middle">66 (61.1)</text>
<text x="6.5" y="121.62" font-size="9.2" font-weight="bold">sGA*</text>
<text x="19.8" y="135.88" font-size="9.2">Fit</text>
<text x="173.4" y="135.88" font-size="9.2" text-anchor="middle">1 (0.9)</text>
<text x="19.8" y="150.14" font-size="9.2">Unfit</text>
<text x="173.4" y="150.14" font-size="9.2" text-anchor="middle">64 (59.3)</text>
<text x="32.2" y="164.4" font-size="9.2">&lt;80 years</text>
<text x="173.4" y="164.4" font-size="9.2" text-anchor="middle">41 (38.0)</text>
<text x="32.2" y="178.66" font-size="9.2">≥80 years</text>
<text x="173.4" y="178.66" font-size="9.2" text-anchor="middle">23 (21.3)</text>
<text x="19.8" y="192.92" font-size="9.2">Frail</text>
<text x="173.4" y="192.92" font-size="9.2" text-anchor="middle">43 (39.8)</text>
<text x="6.5" y="207.18" font-size="9.2" font-weight="bold">Gender</text>
<text x="19.8" y="221.44" font-size="9.2">Female</text>
<text x="173.4" y="221.44" font-size="9.2" text-anchor="middle">56 (51.9)</text>
<text x="6.5" y="235.7" font-size="9.2" font-weight="bold">ECOG PS</text>
<text x="19.8" y="249.96" font-size="9.2">0–1</text>
<text x="173.4" y="249.96" font-size="9.2" text-anchor="middle">87 (80.6)</text>
<text x="19.8" y="264.22" font-size="9.2">2</text>
<text x="173.4" y="264.22" font-size="9.2" text-anchor="middle">21 (19.4)</text>
<text x="6.5" y="278.48" font-size="9.2" font-weight="bold">Ann Arbor stage</text>
<text x="19.8" y="292.74" font-size="9.2">III–IV</text>
<text x="173.4" y="292.74" font-size="9.2" text-anchor="middle">71 (65.7)</text>
<text x="6.5" y="307" font-size="9.2" font-weight="bold">aa-IPI</text>
<text x="19.8" y="321.26" font-size="9.2">0</text>
<text x="173.4" y="321.26" font-size="9.2" text-anchor="middle">21 (19.4)</text>
<text x="19.8" y="335.52" font-size="9.2">1</text>
<text x="173.4" y="335.52" font-size="9.2" text-anchor="middle">32 (29.6)</text>
<text x="19.8" y="349.78" font-size="9.2">2</text>
<text x="173.4" y="349.78" font-size="9.2" text-anchor="middle">41 (38.0)</text>
<text x="19.8" y="364.04" font-size="9.2">3</text>
<text x="173.4" y="364.04" font-size="9.2" text-anchor="middle">14 (13.0)</text>
<text x="6.5" y="378.3" font-size="9.2" font-weight="bold">Extranodal involvement</text>
<text x="173.4" y="378.3" font-size="9.2" text-anchor="middle">77 (71.3)</text>
<text x="6.5" y="392.56" font-size="9.2" font-weight="bold">Elevated LDH</text>
<text x="173.4" y="392.56" font-size="9.2" text-anchor="middle">59 (54.6)</text>
<text x="6.5" y="406.82" font-size="9.2" font-weight="bold">Bulky disease (≥7.5cm)</text>
<text x="173.4" y="406.82" font-size="9.2" text-anchor="middle">30 (27.8)</text>
<text x="6.5" y="421.08" font-size="9.2" font-weight="bold">HGBCL<tspan font-size="6" dy="-3">†,‡</tspan></text>
<text x="19.8" y="435.34" font-size="9.2">Double hit</text>
<text x="173.4" y="435.34" font-size="9.2" text-anchor="middle">8 (7.4)</text>
<text x="19.8" y="449.6" font-size="9.2">Triple hit</text>
<text x="173.4" y="449.6" font-size="9.2" text-anchor="middle">2 (1.9)</text>
<text x="6.5" y="463.86" font-size="9.2" font-weight="bold">Cell of origin<tspan font-size="6" dy="-3">‡</tspan></text>
<text x="19.8" y="478.12" font-size="9.2">GCB</text>
<text x="173.4" y="478.12" font-size="9.2" text-anchor="middle">49 (45.4)</text>
<text x="19.8" y="492.38" font-size="9.2">Non-GCB</text>
<text x="173.4" y="492.38" font-size="9.2" text-anchor="middle">56 (51.9)</text>
<text x="19.8" y="506.64" font-size="9.2">Unknown</text>
<text x="173.4" y="506.64" font-size="9.2" text-anchor="middle">3 (2.8)</text>
<text class="fn" transform="translate(6.8 534.3) scale(1 1.06)" font-size="6.1" xml:space="preserve">*Eligible patients were ≥80 years or per sGA (Merli et al. J Clin Oncol</text>
<text class="fn" transform="translate(6.8 541.59) scale(1 1.06)" font-size="6.1" xml:space="preserve">2021): 65–79 years and ineligible for chemoimmunotherapy with at</text>
<text class="fn" transform="translate(6.8 548.88) scale(1 1.06)" font-size="6.1" xml:space="preserve">least: ≥2 ADL and/or IADL impairments, and/or a CIRS-G score of</text>
<text class="fn" transform="translate(6.8 556.17) scale(1 1.06)" font-size="6.1" xml:space="preserve">≥1 comorbidity with a severity score of 3–4, or score of 2 in ≥8</text>
<text class="fn" transform="translate(6.8 563.46) scale(1 1.06)" font-size="6.1" xml:space="preserve">comorbidities (unfit) or ≥80 years with ≥1 ADL and/or ≥1 IADL</text>
<text class="fn" transform="translate(6.8 570.75) scale(1 1.06)" font-size="6.1" xml:space="preserve">impairments and/or a CIRS-G score of ≥1 comorbidity with a severity</text>
<text class="fn" transform="translate(6.8 578.04) scale(1 1.06)" font-size="6.1" xml:space="preserve">score of 3–4, or score of 2 in ≥5 comorbidities (frail). Fit patients were any</text>
<text class="fn" transform="translate(6.8 585.33) scale(1 1.06)" font-size="6.1" xml:space="preserve">patients who  did not meet the criteria for unfit or frail per sGA. Due to</text>
<text class="fn" transform="translate(6.8 592.62) scale(1 1.06)" font-size="6.1" xml:space="preserve">protocol violation, one fit patient was included in the M-Pola Cohort.</text>
<text class="fn" transform="translate(6.8 599.91) scale(1 1.06)" font-size="6.1" xml:space="preserve"><tspan font-size="4.2" dy="-1.8">†</tspan><tspan dy="1.8">Double hit/triple hit: MYC, BCL2, and/or BCL6. </tspan><tspan font-size="4.2" dy="-1.8">‡</tspan><tspan dy="1.8">Local testing.</tspan></text>
<text class="fn" transform="translate(6.8 607.2) scale(1 1.06)" font-size="6.1" xml:space="preserve">aa-IPI, age-adjusted International Prognostic Index; ADL, activity of</text>
<text class="fn" transform="translate(6.8 614.49) scale(1 1.06)" font-size="6.1" xml:space="preserve">daily living; CIRS-G, Cumulative Illness Rating Scale-Geriatric;</text>
<text class="fn" transform="translate(6.8 621.78) scale(1 1.06)" font-size="6.1" xml:space="preserve">ECOG PS, Eastern Cooperative Oncology Group performance status;</text>
<text class="fn" transform="translate(6.8 629.07) scale(1 1.06)" font-size="6.1" xml:space="preserve">GCB, germinal center B-cell-like; HGBCL, high-grade B-cell lymphoma;</text>
<text class="fn" transform="translate(6.8 636.36) scale(1 1.06)" font-size="6.1" xml:space="preserve">IADL, instrumental activity of daily living; LDH, lactate dehydrogenase;</text>
<text class="fn" transform="translate(6.8 643.65) scale(1 1.06)" font-size="6.1" xml:space="preserve">Mosun, Mosunetuzumab; M-Pola, mosunetuzumab plus polatuzumab</text>
<text class="fn" transform="translate(6.8 650.94) scale(1 1.06)" font-size="6.1" xml:space="preserve">vedotin; Pola, polatuzumab vedotin; sGA, simplified geriatric assessment.</text>
<text x="293.1" y="651" text-anchor="middle" font-size="10.2">0</text>
<text x="324.09" y="651" text-anchor="middle" font-size="10.2">3</text>
<text x="355.08" y="651" text-anchor="middle" font-size="10.2">6</text>
<text x="386.07" y="651" text-anchor="middle" font-size="10.2">9</text>
<text x="417.06" y="651" text-anchor="middle" font-size="10.2">12</text>
<text x="448.05" y="651" text-anchor="middle" font-size="10.2">15</text>
<text x="479.04" y="651" text-anchor="middle" font-size="10.2">18</text>
<text x="510.03" y="651" text-anchor="middle" font-size="10.2">21</text>
<text x="401.5" y="662.5" text-anchor="middle" font-size="10.2" font-weight="bold">Months on study</text>
<text transform="translate(226.9 52.3) rotate(-90)" text-anchor="middle" font-size="10.25" font-weight="bold">Cohort 1</text>
<text transform="translate(239 52) rotate(-90)" text-anchor="middle" font-size="10.25" font-weight="bold">Mosun</text>
<text transform="translate(251.1 51) rotate(-90)" text-anchor="middle" font-size="10.25" font-weight="bold">5/15/45mg</text>
<text transform="translate(263.2 51) rotate(-90)" text-anchor="middle" font-size="10.25" font-weight="bold">+ 1.8mg/kg</text>
<text transform="translate(275.3 50.9) rotate(-90)" text-anchor="middle" font-size="10.25" font-weight="bold">Pola</text>
<text transform="translate(226.9 114) rotate(-90)" text-anchor="middle" font-size="10.25" font-weight="bold">Cohort 2</text>
<text transform="translate(239 114) rotate(-90)" text-anchor="middle" font-size="10.25" font-weight="bold">Mosun</text>
<text transform="translate(251.1 113) rotate(-90)" text-anchor="middle" font-size="10.25" font-weight="bold">5/45/45mg</text>
<text transform="translate(263.2 112.7) rotate(-90)" text-anchor="middle" font-size="10.25" font-weight="bold">+ 1.8mg/kg</text>
<text transform="translate(275.3 112.4) rotate(-90)" text-anchor="middle" font-size="10.25" font-weight="bold">Pola</text>
<text transform="translate(263.6 393.8) rotate(-90)" text-anchor="middle" font-size="10.25" font-weight="bold">Cohort 2 + Exp</text>
<text transform="translate(276.2 393.2) rotate(-90)" text-anchor="middle" font-size="10.25" font-weight="bold">Mosun 5/45/45mg + 1.8mg/kg Pola</text>
<text class="lg" x="400.8" y="479.1" font-size="10.2">Initial and</text>
<text class="lg" x="400.8" y="491.1" font-size="10.2">continuation treatment</text>
<text class="lg" x="400.8" y="506.6" font-size="10.2">In follow-up</text>
<text class="lg" x="400.8" y="521.3" font-size="10.2">Active in follow-up</text>
<text class="lg" x="400.8" y="536.1" font-size="10.2">Complete response</text>
<text class="lg" x="400.8" y="550.9" font-size="10.2">Death</text>
<text class="lg" x="400.8" y="565.6" font-size="10.2">Partial response</text>
<text class="lg" x="400.8" y="580.3" font-size="10.2">Progressive disease</text>
<text class="lg" x="400.8" y="595.1" font-size="10.2">Discontinued from study</text>
<text class="lg" x="400.8" y="609.8" font-size="10.2">Still on treatment</text>
<text class="lg" x="400.8" y="624.6" font-size="10.2">Treatment completed</text>
</g>
</svg>
</body></html>
